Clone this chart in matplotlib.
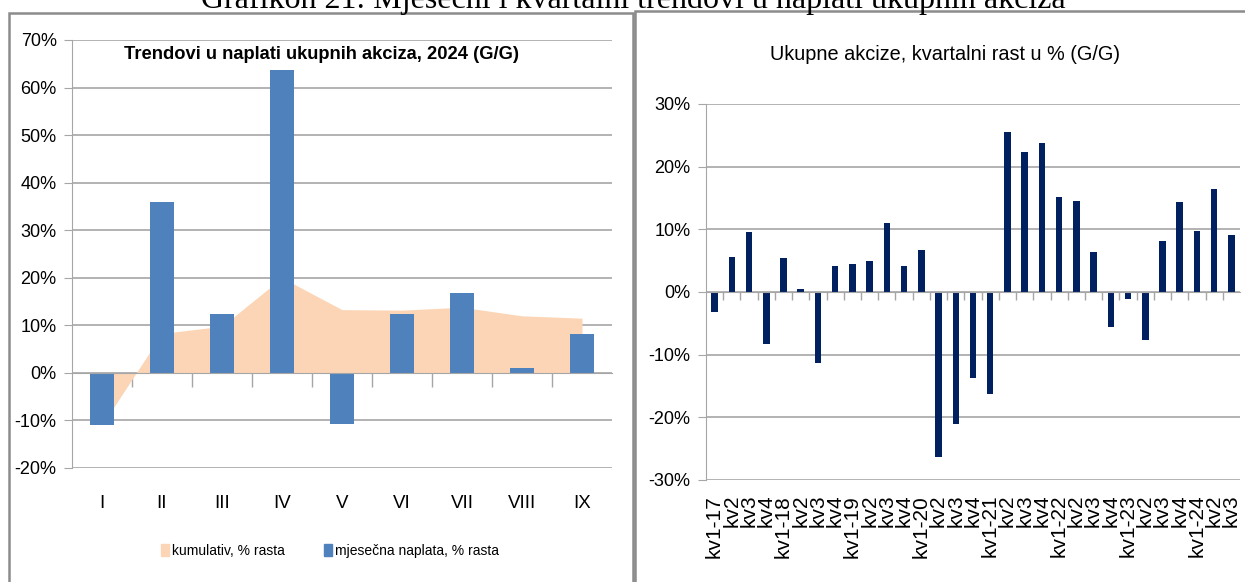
import numpy as np
import matplotlib.pyplot as plt
from matplotlib.patches import Rectangle, Patch
from matplotlib.ticker import FuncFormatter

plt.rcParams['font.family'] = ['Liberation Sans', 'DejaVu Sans']

# lijevi grafikon - mjesecni podaci 2024
months = ["I", "II", "III", "IV", "V", "VI", "VII", "VIII", "IX"]
monthly = [-11.0, 36.0, 12.3, 63.7, -10.7, 12.4, 16.7, 1.1, 8.2]
cumulative = [-11.0, 8.3, 9.8, 20.0, 13.3, 13.2, 13.8, 12.0, 11.5]

# desni grafikon - kvartalni rast
quarters = ["kv1-17", "kv2", "kv3", "kv4", "kv1-18", "kv2", "kv3", "kv4",
            "kv1-19", "kv2", "kv3", "kv4", "kv1-20", "kv2", "kv3", "kv4",
            "kv1-21", "kv2", "kv3", "kv4", "kv1-22", "kv2", "kv3", "kv4",
            "kv1-23", "kv2", "kv3", "kv4", "kv1-24", "kv2", "kv3"]
quarterly = [-3.2, 5.6, 9.5, -8.3, 5.4, 0.5, -11.3, 4.2,
             4.4, 5.0, 11.0, 4.2, 6.7, -26.3, -21.0, -13.8,
             -16.3, 25.6, 22.3, 23.8, 15.2, 14.6, 6.4, -5.6,
             -1.1, -7.7, 8.2, 14.3, 9.7, 16.4, 9.1]

W, H = 1245, 582
fig = plt.figure(figsize=(W / 100, H / 100), dpi=100)

def px(x0, y0, x1, y1):
    # pixel box -> figure fraction
    return [x0 / W, 1 - y1 / H, (x1 - x0) / W, (y1 - y0) / H]

grid_c = "#a6a6a6"
pct = FuncFormatter(lambda v, p: "%d%%" % v)

# okviri panela
fig.patches.append(Rectangle((9 / W, -0.1), (633 - 9) / W, 1.1 - 13 / H,
                             transform=fig.transFigure, fill=False,
                             edgecolor="#8c8c8c", lw=1.8))
fig.patches.append(Rectangle((635 / W, -0.1), 0.5, 1.1 - 11 / H,
                             transform=fig.transFigure, fill=False,
                             edgecolor="#8c8c8c", lw=1.8))

fig.text(633 / W, 1 - 8 / H,
         "Grafikon 21: Mjesečni i kvartalni trendovi u naplati ukupnih akciza",
         family="Liberation Serif", fontsize=23, ha="center", va="baseline")

# ---- lijevi ----
ax1 = fig.add_axes(px(72, 40, 612, 468))
x1 = np.arange(len(months))
ax1.fill_between(x1, cumulative, 0, color="#fbd5b5", lw=0, zorder=1)
ax1.bar(x1, monthly, width=0.4, color="#4f81bd", zorder=2)
ax1.set_xlim(-0.5, len(months) - 0.5)
ax1.set_ylim(-20, 70)
ax1.set_yticks(np.arange(-20, 71, 10))
ax1.yaxis.set_major_formatter(pct)
ax1.grid(axis="y", color=grid_c, lw=1.2, zorder=0)
ax1.set_axisbelow(True)
for s in ["top", "right"]:
    ax1.spines[s].set_visible(False)
ax1.spines["left"].set_color(grid_c)
ax1.spines["bottom"].set_position(("data", 0))
ax1.spines["bottom"].set_color(grid_c)
ax1.spines["bottom"].set_zorder(3)
ax1.set_xticks(np.arange(0.5, len(months) - 0.5, 1))
ax1.set_xticks(x1, minor=True)
ax1.set_xticklabels([])
ax1.set_xticklabels(months, minor=True)
ax1.tick_params(axis="x", which="major", length=10, color=grid_c, width=1)
ax1.tick_params(axis="x", which="minor", length=0, pad=88, labelsize=13.5)
ax1.tick_params(axis="y", length=6, color=grid_c, labelsize=13, pad=5)
ax1.text(0.462, 0.965, "Trendovi u naplati ukupnih akciza, 2024 (G/G)",
         transform=ax1.transAxes, ha="center", va="center",
         fontsize=13.2, fontweight="bold")

handles = [Patch(color="#fbd5b5", label="kumulativ, % rasta"),
           Patch(color="#4f81bd", label="mjesečna naplata, % rasta")]
fig.legend(handles=handles, loc="center", bbox_to_anchor=(330 / W, 1 - 551 / H),
           ncol=2, frameon=False, fontsize=10, handlelength=0.6,
           handleheight=0.9, handletextpad=0.2, columnspacing=2.8)

# ---- desni ----
ax2 = fig.add_axes(px(706, 104, 1240, 480))
x2 = np.arange(len(quarters))
ax2.bar(x2, quarterly, width=0.38, color="#002060", zorder=2)
ax2.set_xlim(-0.5, len(quarters) - 0.5)
ax2.set_ylim(-30, 30)
ax2.set_yticks(np.arange(-30, 31, 10))
ax2.yaxis.set_major_formatter(pct)
ax2.grid(axis="y", color=grid_c, lw=1.2, zorder=0)
ax2.set_axisbelow(True)
for s in ["top", "right"]:
    ax2.spines[s].set_visible(False)
ax2.spines["left"].set_color(grid_c)
ax2.spines["bottom"].set_position(("data", 0))
ax2.spines["bottom"].set_color(grid_c)
ax2.spines["bottom"].set_zorder(3)
ax2.set_xticks(np.arange(0.5, len(quarters) - 0.5, 1))
ax2.set_xticks(x2, minor=True)
ax2.set_xticklabels([])
ax2.set_xticklabels(quarters, minor=True, rotation=90, va="top")
ax2.tick_params(axis="x", which="major", length=6, color=grid_c, width=1)
ax2.tick_params(axis="x", which="minor", length=0, pad=146, labelsize=15)
ax2.tick_params(axis="y", length=6, color=grid_c, labelsize=13, pad=5)
fig.text(945 / W, 1 - 55 / H, "Ukupne akcize, kvartalni rast u % (G/G)",
         ha="center", va="center", fontsize=14.3)

fig.savefig("out.png", dpi=100)
